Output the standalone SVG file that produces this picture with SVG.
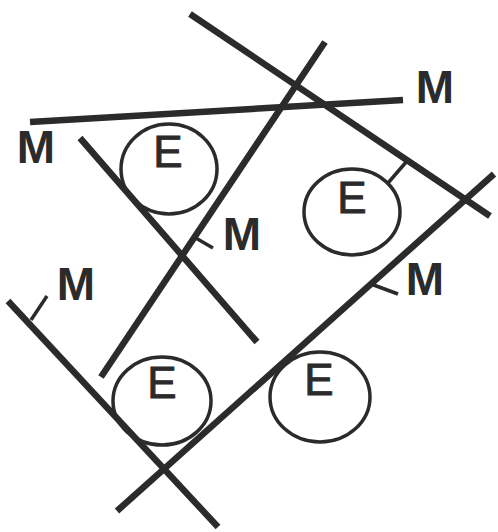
<svg xmlns="http://www.w3.org/2000/svg" width="498" height="532" viewBox="0 0 498 532">
<style>
.ln{stroke:#2b2b2b;stroke-width:6.5;stroke-linecap:butt;fill:none}
.tk{stroke:#2b2b2b;stroke-width:3.5;fill:none}
.cl{stroke:#2b2b2b;stroke-width:3.5;fill:none}
.m{font-family:"Liberation Sans",Arial,sans-serif;font-size:46px;font-weight:bold;fill:#2b2b2b;text-anchor:middle}
.e{font-family:"Liberation Sans",Arial,sans-serif;font-size:44px;fill:#2b2b2b;stroke:#2b2b2b;stroke-width:0.9;text-anchor:middle}
</style>
<rect width="498" height="532" fill="#ffffff"/>
<g id="connectors">
<line class="ln" x1="190" y1="14" x2="490" y2="216"/>
<line class="ln" x1="30" y1="122" x2="403" y2="100"/>
<line class="ln" x1="325" y1="42" x2="101" y2="377"/>
<line class="ln" x1="80" y1="138" x2="257" y2="342"/>
<line class="ln" x1="8" y1="301" x2="218" y2="527"/>
<line class="ln" x1="117" y1="511" x2="494" y2="174"/>
<line class="tk" x1="388" y1="183" x2="407" y2="161"/>
<line class="tk" x1="194" y1="237" x2="213" y2="248"/>
<line class="tk" x1="31" y1="320" x2="47" y2="296"/>
<line class="tk" x1="371" y1="284" x2="398" y2="294"/>
</g>
<g id="e1"><ellipse class="cl" cx="169" cy="169" rx="48" ry="45"/><text class="e" x="168" y="167">E</text></g>
<g id="e2"><ellipse class="cl" cx="352" cy="212" rx="48" ry="43"/><text class="e" x="352" y="213">E</text></g>
<g id="e3"><ellipse class="cl" cx="162" cy="401" rx="49" ry="44"/><text class="e" x="162" y="398">E</text></g>
<g id="e4"><ellipse class="cl" cx="320" cy="397" rx="50" ry="45"/><text class="e" x="319" y="395">E</text></g>
<g id="m1"><text class="m" x="435" y="103">M</text></g>
<g id="m2"><text class="m" x="36" y="163">M</text></g>
<g id="m3"><text class="m" x="242" y="250">M</text></g>
<g id="m4"><text class="m" x="76" y="300">M</text></g>
<g id="m5"><text class="m" x="425" y="295">M</text></g>
</svg>
